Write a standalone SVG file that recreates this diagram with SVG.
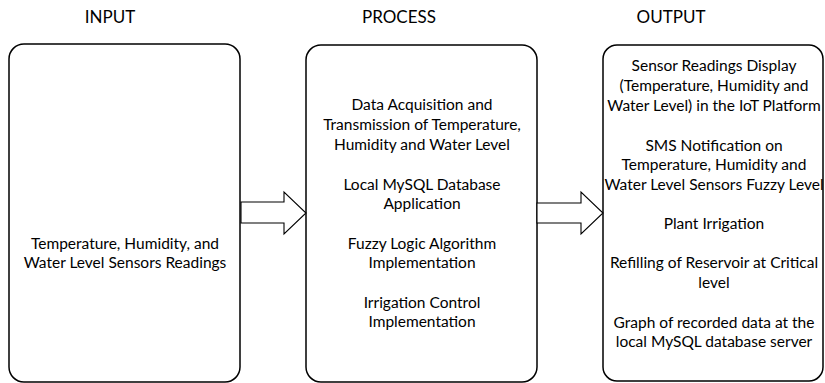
<svg xmlns="http://www.w3.org/2000/svg" width="825" height="383" viewBox="0 0 825 383">
<style>
.box{fill:#fff;stroke:#000;stroke-width:1.5}
.arr{fill:#fff;stroke:#000;stroke-width:1.1;stroke-linejoin:miter}
.t{font-family:Lato,"Open Sans",sans-serif;font-size:15.5px;fill:#000;text-anchor:middle}
.h{font-family:Lato,"Open Sans",sans-serif;font-size:17px;fill:#000;text-anchor:middle}
</style>
<rect width="825" height="383" fill="#fff"/>
<g id="input">
<text class="h" x="110" y="23">INPUT</text>
<rect class="box" x="9" y="44" width="231" height="338" rx="15"/>
<text class="t" x="125" y="249">Temperature, Humidity, and</text>
<text class="t" x="125" y="268">Water Level Sensors Readings</text>
</g>
<g id="process">
<text class="h" x="399" y="23">PROCESS</text>
<rect class="box" x="306" y="45" width="231" height="337" rx="15"/>
<text class="t" x="422" y="110">Data Acquisition and</text>
<text class="t" x="422" y="130">Transmission of Temperature,</text>
<text class="t" x="422" y="150">Humidity and Water Level</text>
<text class="t" x="422" y="190">Local MySQL Database</text>
<text class="t" x="422" y="209">Application</text>
<text class="t" x="422" y="249">Fuzzy Logic Algorithm</text>
<text class="t" x="422" y="268">Implementation</text>
<text class="t" x="422" y="308">Irrigation Control</text>
<text class="t" x="422" y="327">Implementation</text>
</g>
<g id="output">
<text class="h" x="671" y="23">OUTPUT</text>
<rect class="box" x="603" y="45" width="220" height="336" rx="14"/>
<text class="t" x="714" y="71">Sensor Readings Display</text>
<text class="t" x="714" y="91">(Temperature, Humidity and</text>
<text class="t" x="714" y="111">Water Level) in the IoT Platform</text>
<text class="t" x="714" y="151">SMS Notification on</text>
<text class="t" x="714" y="170">Temperature, Humidity and</text>
<text class="t" x="714" y="190">Water Level Sensors Fuzzy Level</text>
<text class="t" x="714" y="229">Plant Irrigation</text>
<text class="t" x="714" y="268">Refilling of Reservoir at Critical</text>
<text class="t" x="714" y="288">level</text>
<text class="t" x="714" y="328">Graph of recorded data at the</text>
<text class="t" x="714" y="347">local MySQL database server</text>
</g>
<g id="connectors">
<polygon class="arr" points="241,202 284,202 284,192 306,213 284,234 284,223 241,223"/>
<polygon class="arr" points="537,203 581,203 581,192 603,213 581,234 581,223 537,223"/>
</g>
</svg>
